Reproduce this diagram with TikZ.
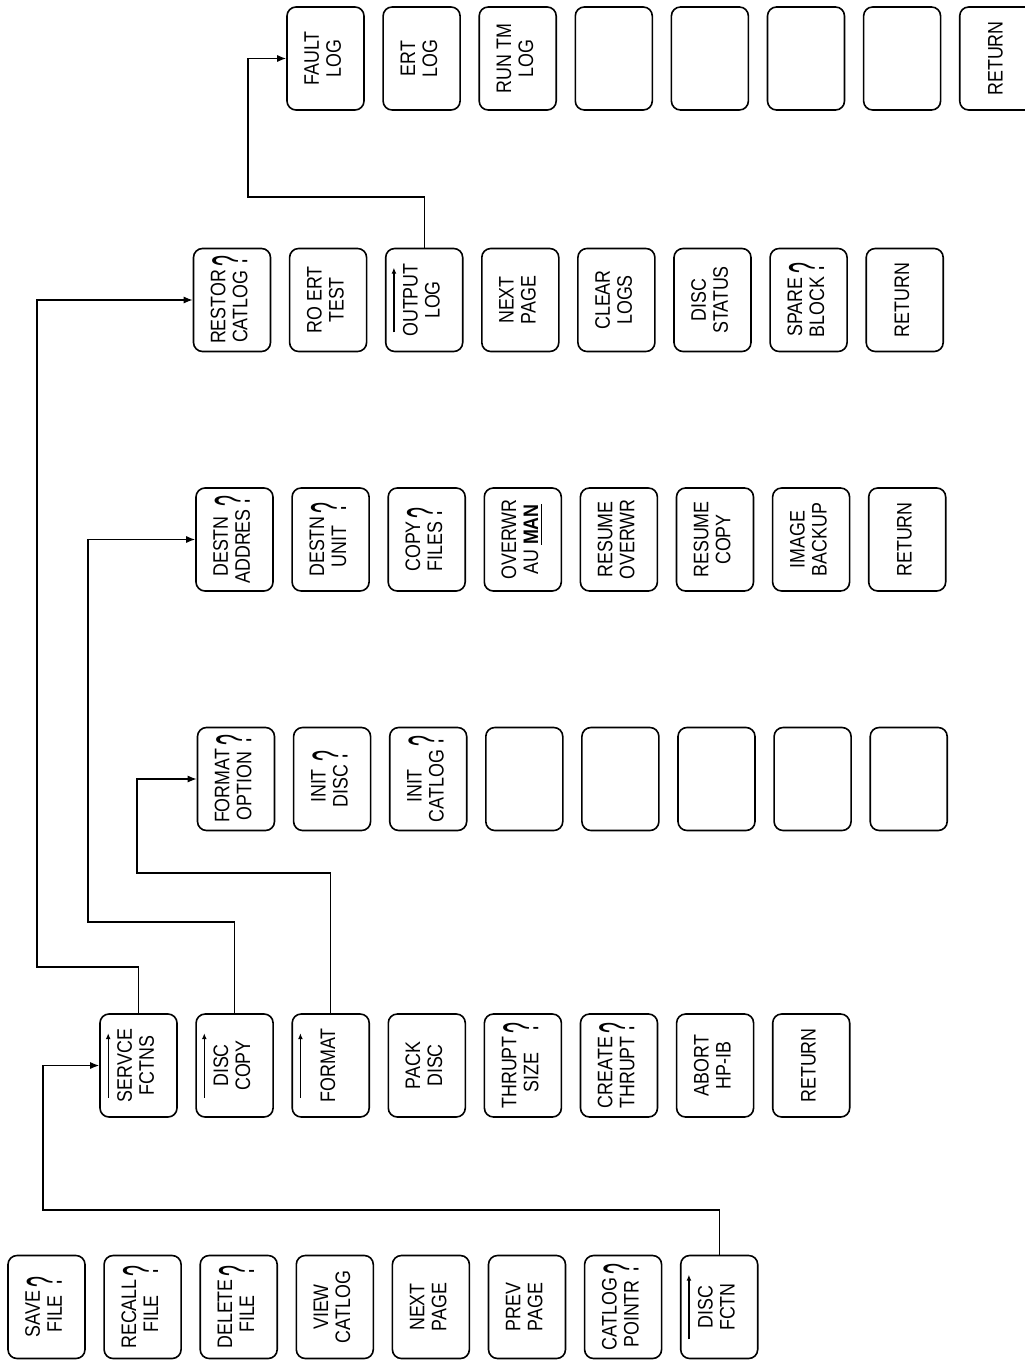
\documentclass[tikz,border=0pt]{standalone}
\usepackage{fontspec}
\setmainfont{Liberation Sans}[FakeStretch=0.85]
\usepackage{graphicx}
\usetikzlibrary{arrows.meta,positioning,calc}

\newcommand{\qmark}{\hspace{1.5pt}\raisebox{-5pt}{\scalebox{1.1}[2.4]{?}}}
\newcommand{\lbl}[1]{\rotatebox{90}{\begin{tabular}{@{}c@{}}#1\end{tabular}}}
\newcommand{\lblq}[1]{\rotatebox{90}{\begin{tabular}{@{}c@{}}#1\end{tabular}\qmark}}

\begin{document}
\begin{tikzpicture}[
    x=0.5pt, y=-0.5pt,
    node distance=8.75pt,
    softkey/.style={rectangle, draw, line width=0.8pt, rounded corners=4.5pt, minimum width=38.5pt, minimum height=51.5pt, inner sep=0pt, font=\fontsize{10.5}{11}\selectfont},
    arrow/.style={-{Latex[length=4.5pt,width=3.5pt]}, line width=0.6pt},
    uparrow/.style={-{Latex[length=3pt,width=2.5pt]}, line width=0.6pt}
  ]
    \useasboundingbox (0,0) rectangle (1024,1364);

    % main menu
    \node[softkey] (save) at (46.5,1307) {\lblq{SAVE\\FILE}};
    \node[softkey, right=of save] (recall) {\lblq{RECALL\\FILE}};
    \node[softkey, right=of recall] (delete) {\lblq{DELETE\\FILE}};
    \node[softkey, right=of delete] (view) {\lbl{VIEW\\CATLOG}};
    \node[softkey, right=of view] (nextpg) {\lbl{NEXT\\PAGE}};
    \node[softkey, right=of nextpg] (prevpg) {\lbl{PREV\\PAGE}};
    \node[softkey, right=of prevpg] (catptr) {\lblq{CATLOG\\POINTR}};
    \node[softkey, right=of catptr] (dfctn) {\lbl{DISC\\FCTN}};

    % disc functions
    \node[softkey] (servce) at (138.5,1065.5) {\lbl{SERVCE\\FCTNS}};
    \node[softkey, right=of servce] (dcopy) {\lbl{DISC\\COPY}};
    \node[softkey, right=of dcopy] (format) {\lbl{FORMAT}};
    \node[softkey, right=of format] (pack) {\lbl{PACK\\DISC}};
    \node[softkey, right=of pack] (thrsize) {\lblq{THRUPT\\SIZE}};
    \node[softkey, right=of thrsize] (create) {\lblq{CREATE\\THRUPT}};
    \node[softkey, right=of create] (abort) {\lbl{ABORT\\HP-IB}};
    \node[softkey, right=of abort] (ret1) {\lbl{RETURN}};

    % format
    \node[softkey] (fmtopt) at (236,779) {\lblq{FORMAT\\OPTION}};
    \node[softkey, right=of fmtopt] (initdisc) {\lblq{INIT\\DISC}};
    \node[softkey, right=of initdisc] (initcat) {\lblq{INIT\\CATLOG}};
    \node[softkey, right=of initcat] (fb1) {};
    \node[softkey, right=of fb1] (fb2) {};
    \node[softkey, right=of fb2] (fb3) {};
    \node[softkey, right=of fb3] (fb4) {};
    \node[softkey, right=of fb4] (fb5) {};

    % disc copy
    \node[softkey] (destadr) at (234.5,539.5) {\lblq{DESTN\\ADDRES}};
    \node[softkey, right=of destadr] (destunit) {\lblq{DESTN\\UNIT}};
    \node[softkey, right=of destunit] (copyf) {\lblq{COPY\\FILES}};
    \node[softkey, right=of copyf] (overwr) {\lbl{OVERWR\\AU \underline{\textbf{MAN}}}};
    \node[softkey, right=of overwr] (resovr) {\lbl{RESUME\\OVERWR}};
    \node[softkey, right=of resovr] (rescopy) {\lbl{RESUME\\COPY}};
    \node[softkey, right=of rescopy] (image) {\lbl{IMAGE\\BACKUP}};
    \node[softkey, right=of image] (ret2) {\lbl{RETURN}};

    % service functions
    \node[softkey] (restor) at (232,300) {\lblq{RESTOR\\CATLOG}};
    \node[softkey, right=of restor] (roert) {\lbl{RO ERT\\TEST}};
    \node[softkey, right=of roert] (output) {\lbl{OUTPUT\\LOG}};
    \node[softkey, right=of output] (nextlog) {\lbl{NEXT\\PAGE}};
    \node[softkey, right=of nextlog] (clear) {\lbl{CLEAR\\LOGS}};
    \node[softkey, right=of clear] (status) {\lbl{DISC\\STATUS}};
    \node[softkey, right=of status] (spare) {\lblq{SPARE\\BLOCK}};
    \node[softkey, right=of spare] (ret3) {\lbl{RETURN}};

    % output log
    \node[softkey] (fault) at (325.5,58.5) {\lbl{FAULT\\LOG}};
    \node[softkey, right=of fault] (ertlog) {\lbl{ERT\\LOG}};
    \node[softkey, right=of ertlog] (runtm) {\lbl{RUN TM\\LOG}};
    \node[softkey, right=of runtm] (lb1) {};
    \node[softkey, right=of lb1] (lb2) {};
    \node[softkey, right=of lb2] (lb3) {};
    \node[softkey, right=of lb3] (lb4) {};
    \node[softkey, right=of lb4] (ret4) {\lbl{RETURN}};

    % menu marks
    \draw[uparrow] ($(dfctn.south west)+(9,-20)$) -- ($(dfctn.north west)+(9,20)$);
    \draw[uparrow] ($(servce.south west)+(9,-20)$) -- ($(servce.north west)+(9,20)$);
    \draw[uparrow] ($(dcopy.south west)+(9,-20)$) -- ($(dcopy.north west)+(9,20)$);
    \draw[uparrow] ($(format.south west)+(9,-20)$) -- ($(format.north west)+(9,20)$);
    \draw[uparrow] ($(output.south west)+(9,-20)$) -- ($(output.north west)+(9,20)$);

    % links
    \coordinate (c1) at (43,1210);
    \coordinate (c2) at (37,967);
    \coordinate (c3) at (88,922);
    \coordinate (c4) at (137,873);
    \coordinate (c5) at (248,197);
    \draw[arrow] (dfctn.north) |- (c1) |- (servce.west);
    \draw[arrow] (servce.north) |- (c2) |- (restor.west);
    \draw[arrow] (dcopy.north) |- (c3) |- (destadr.west);
    \draw[arrow] (format.north) |- (c4) |- (fmtopt.west);
    \draw[arrow] (output.north) |- (c5) |- (fault.west);
  \end{tikzpicture}
\end{document}
